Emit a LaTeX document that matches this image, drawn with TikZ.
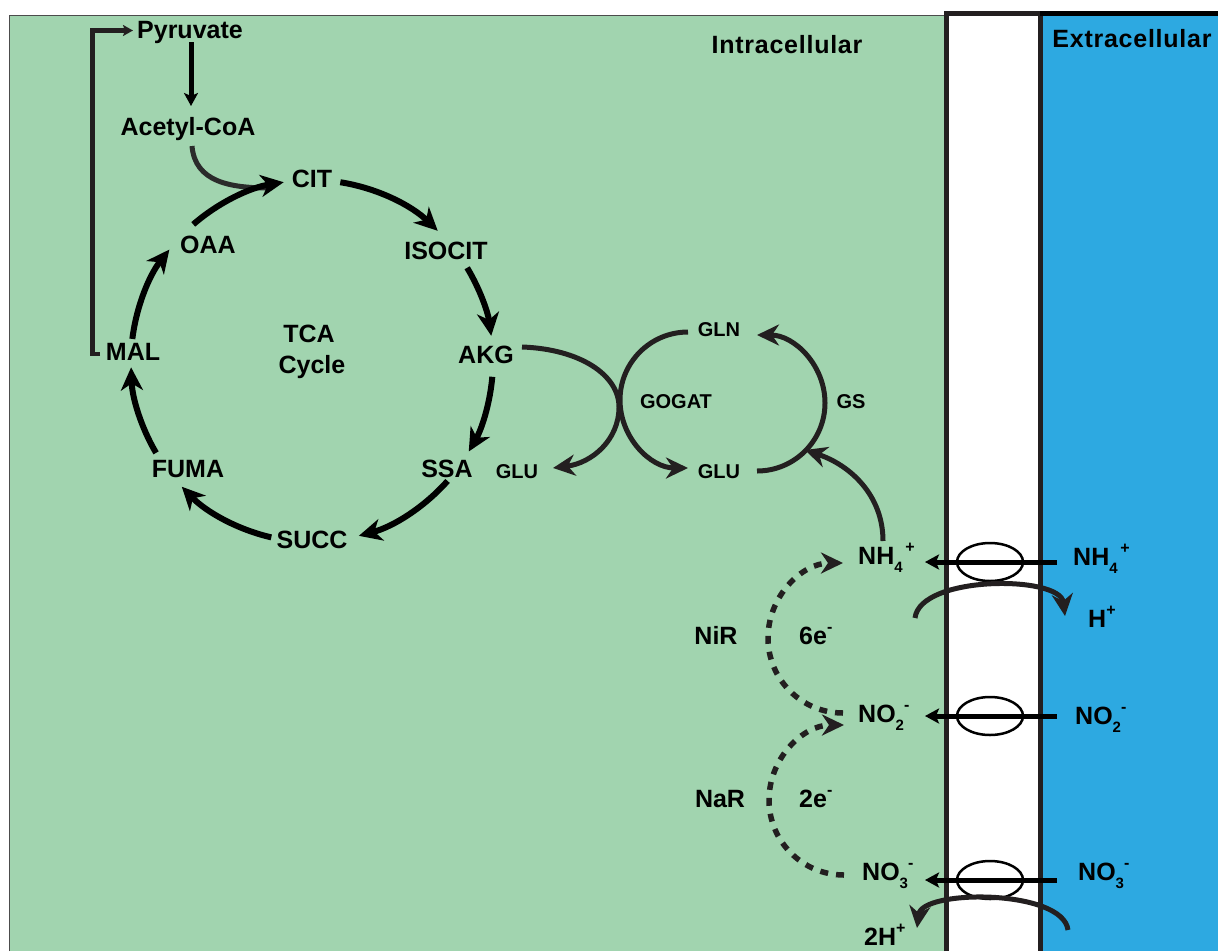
\documentclass[tikz,border=0pt]{standalone}
\usepackage{fontspec}
\setmainfont{Liberation Sans}
\usetikzlibrary{arrows.meta}
\definecolor{cellgreen}{HTML}{A1D4AF}
\definecolor{extblue}{HTML}{2DA9E1}
\definecolor{ink}{HTML}{231F20}
\definecolor{softink}{HTML}{2B2B2B}
\newcommand\lo[1]{\raisebox{-0.33em}{\fontsize{15}{15}\selectfont #1}}
\newcommand\hi[1]{\raisebox{0.45em}{\fontsize{16}{16}\selectfont #1}}
\begin{document}
\begin{tikzpicture}[x=1pt,y=-1pt,
  lbl/.style={anchor=base,inner sep=0pt,font=\fontsize{25}{25}\selectfont\bfseries},
  lblw/.style={anchor=base west,inner sep=0pt,font=\fontsize{25}{25}\selectfont\bfseries},
  smalllbl/.style={anchor=base,inner sep=0pt,font=\fontsize{20}{20}\selectfont\bfseries},
  headlbl/.style={anchor=base,inner sep=0pt,font=\fontsize{25}{25}\selectfont\bfseries\addfontfeature{LetterSpace=3}},
  tca/.style={line width=6pt,black,-{Stealth[length=23pt,width=22pt,inset=7pt]}},
  gcurve/.style={line width=5pt,ink,-{Stealth[length=22pt,width=21pt,inset=7pt]}},
  dashedarc/.style={line width=5.5pt,ink,dash pattern=on 8pt off 8pt,-{Stealth[length=22pt,width=21pt,inset=7pt]}},
  trans/.style={line width=5pt,black,-{Stealth[length=14pt,width=15pt,inset=3pt]}},
  porter/.style={line width=2.5pt,black}]
\useasboundingbox (0,0) rectangle (1218,951);
% background regions
\fill[white] (0,0) rectangle (1218,951);
\fill[cellgreen] (9.5,15.5) rectangle (946,951);
\draw[line width=1pt,gray!60!black] (9.5,951) -- (9.5,15.5) -- (946,15.5);
\fill[extblue] (1040,13) rectangle (1218,951);
\fill[white] (946.5,13) rectangle (1040,951);
\draw[ink,line width=5pt] (946.5,951) -- (946.5,13.5) -- (1040,13.5) -- (1040,951);
\draw[black,line width=5pt] (1040,13.5) -- (1218,13.5);

% labels
\node[headlbl] (intra) at (787,53) {Intracellular};
\node[headlbl] (extra) at (1132,47) {Extracellular};
\node[lbl] (pyr) at (190,38) {Pyruvate};
\node[lbl] (acc) at (188,135) {Acetyl-CoA};
\node[lbl] (cit) at (312,187) {CIT};
\node[lbl] (isocit) at (446,259) {ISOCIT};
\node[lbl] (akg) at (486,363) {AKG};
\node[lbl] (ssa) at (447,477) {SSA};
\node[lbl] (succ) at (312,548) {SUCC};
\node[lbl] (fuma) at (188,477) {FUMA};
\node[lbl] (mal) at (133,360) {MAL};
\node[lbl] (oaa) at (208,253) {OAA};
\node[lbl] (tcaA) at (309,342) {TCA};
\node[lbl] (tcaB) at (312,373) {Cycle};
\node[smalllbl] (gluL) at (517,478) {GLU};
\node[smalllbl] (gln) at (719,336) {GLN};
\node[smalllbl] (gogat) at (676,408) {GOGAT};
\node[smalllbl] (gs) at (851,408) {GS};
\node[smalllbl] (gluR) at (719,478) {GLU};
\node[lblw] (nh4i) at (858,564) {NH\lo{4}\hi{\,+}};
\node[lblw] (nh4o) at (1073,565) {NH\lo{4}\hi{\,+}};
\node[lblw] (hplus) at (1088,627) {H\hi{+}};
\node[lbl] (nir) at (716,644) {NiR};
\node[lblw] (six) at (799,644) {6e\hi{-}};
\node[lblw] (no2i) at (858,722) {NO\lo{2}\hi{-}};
\node[lblw] (no2o) at (1075,724) {NO\lo{2}\hi{-}};
\node[lbl] (nar) at (720,807) {NaR};
\node[lblw] (two) at (799,807) {2e\hi{-}};
\node[lblw] (no3i) at (862,880) {NO\lo{3}\hi{-}};
\node[lblw] (no3o) at (1078,880) {NO\lo{3}\hi{-}};
\node[lblw] (twoh) at (864,945) {2H\hi{+}};

% pyruvate / acetyl-CoA
\coordinate (pyrA) at (191,42);
\coordinate (pyrB) at (191,106);
\draw[line width=5pt,black,-{Stealth[length=13pt,width=14pt,inset=3pt]}] (pyrA) -- (pyrB);
\coordinate (malL) at (100,354);
\coordinate (pyrL) at (133,30.5);
\draw[line width=4.5pt,ink,-{Stealth[length=10pt,width=11pt,inset=2pt]}] (malL) -- (92.5,354) -- (92.5,30.5) -- (pyrL);
\coordinate (accS) at (192,146);
\coordinate (accE) at (270,188);
\draw[line width=5pt,softink] (accS) .. controls (195,182) and (230,188) .. (accE);

% TCA cycle arcs
\coordinate (tc) at (312,361);
\draw[tca] (tc) ++(-81:181) arc[start angle=-81,end angle=-46,radius=181];
\draw[tca] (tc) ++(-31:181) arc[start angle=-31,end angle=-8,radius=181];
\draw[tca] (tc) ++(5:181) arc[start angle=5,end angle=30,radius=181];
\draw[tca] (tc) ++(41.5:181) arc[start angle=41.5,end angle=75,radius=181];
\draw[tca] (tc) ++(103:181) arc[start angle=103,end angle=136,radius=181];
\draw[tca] (tc) ++(149.5:181) arc[start angle=149.5,end angle=178,radius=181];
\draw[tca] (tc) ++(187:181) arc[start angle=187,end angle=218,radius=181];
\draw[tca] (tc) ++(229:181) arc[start angle=229,end angle=261,radius=181];

% GOGAT / GS
\coordinate (akgE) at (522,347);
\coordinate (gluLT) at (553,468);
\draw[gcurve] (akgE) .. controls (580,349) and (619,375) .. (619,407) .. controls (619,440) and (592,463) .. (gluLT);
\coordinate (glnW) at (688,332);
\draw[gcurve] (glnW) arc[start angle=-90,end angle=-270,radius=68];
\coordinate (gluE) at (757,471);
\draw[gcurve] (gluE) arc[start angle=90,end angle=-90,radius=68];
\coordinate (nh4T) at (883,541);
\coordinate (gsT) at (805,450);
\draw[gcurve] (nh4T) .. controls (883,495) and (850,465) .. (gsT);

% transporters
\foreach \yy/\nm in {562/a,716/b,880/c}{
  \draw[porter] (990,\yy) ellipse [x radius=33,y radius=19];
  \coordinate (t\nm1) at (1057,\yy);
  \coordinate (t\nm2) at (925,\yy);
  \draw[trans] (t\nm1) -- (t\nm2);
}
\coordinate (hS) at (915,618);
\coordinate (hT) at (1065,616);
\draw[gcurve] (hS) .. controls (920,575) and (1060,575) .. (hT);
\coordinate (h2S) at (1068,930);
\coordinate (h2T) at (917,928);
\draw[gcurve] (h2S) .. controls (1063,889) and (922,889) .. (h2T);

% reductions
\coordinate (nirS) at (843,713);
\draw[dashedarc] (nirS) arc[start angle=90,end angle=270,radius=75];
\coordinate (narS) at (844,875);
\draw[dashedarc] (narS) arc[start angle=90,end angle=270,radius=75];
\end{tikzpicture}
\end{document}
